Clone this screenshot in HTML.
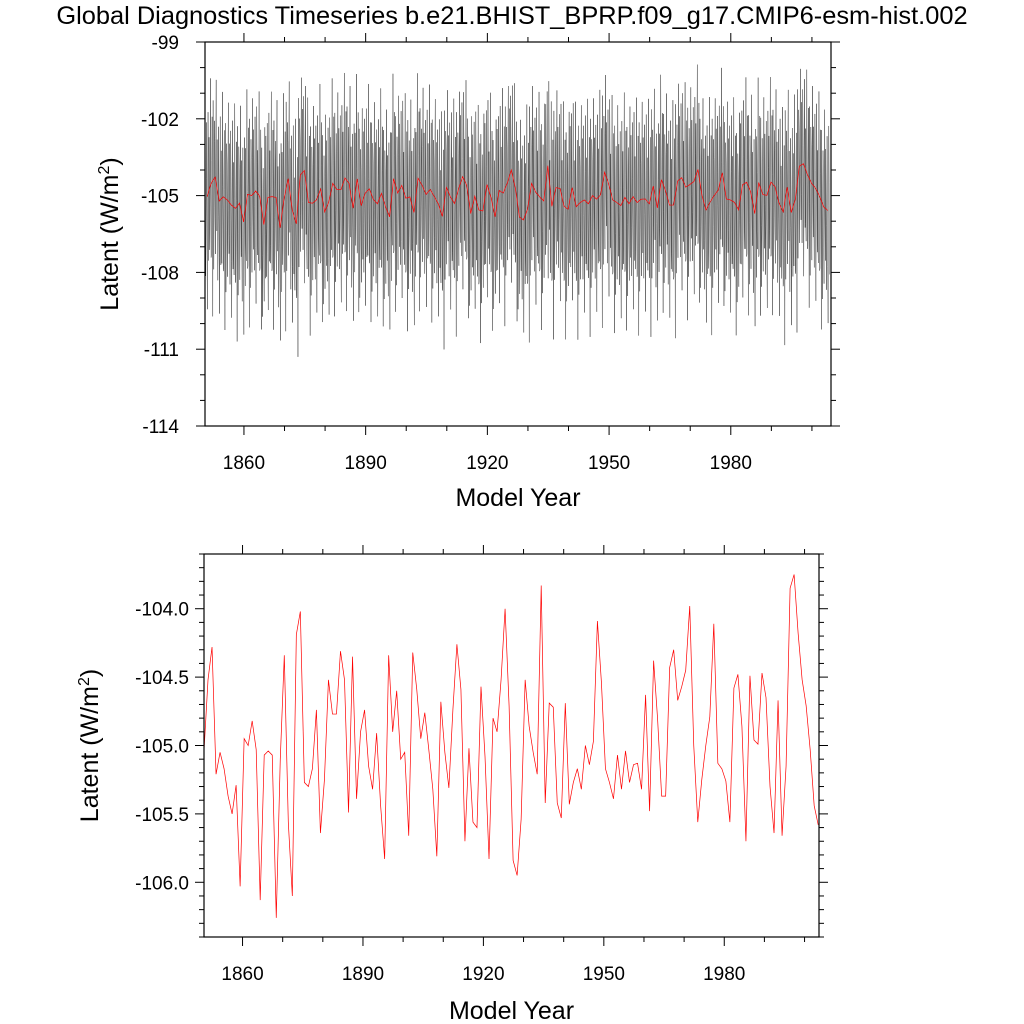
<!DOCTYPE html>
<html><head><meta charset="utf-8"><style>
html,body{margin:0;padding:0;background:#fff}
svg{display:block;font-family:"Liberation Sans",sans-serif}
</style></head><body>
<svg id="chart" width="1024" height="1024" viewBox="0 0 1024 1024">
<text x="512" y="24" text-anchor="middle" font-size="25.4">Global Diagnostics Timeseries b.e21.BHIST_BPRP.f09_g17.CMIP6-esm-hist.002</text>
<g id="top"></g>
<g id="bot"></g>
</svg>
<script>
const annualMeans = [-105.04,-104.52,-104.28,-105.21,-105.05,-105.17,-105.37,-105.50,-105.29,-106.03,
-104.95,-105.00,-104.82,-105.03,-106.13,-105.07,-105.04,-105.07,-106.26,-105.10,
-104.34,-105.56,-106.10,-104.19,-104.02,-105.27,-105.30,-105.17,-104.74,-105.64,
-105.25,-104.52,-104.77,-104.77,-104.31,-104.52,-105.49,-104.35,-105.39,-104.90,
-104.74,-105.15,-105.32,-104.91,-105.44,-105.83,-104.34,-104.90,-104.60,-105.10,
-105.05,-105.66,-104.32,-104.59,-104.95,-104.76,-105.03,-105.32,-105.81,-104.68,
-105.05,-105.31,-104.74,-104.26,-104.59,-105.70,-105.02,-105.56,-105.60,-104.57,
-105.08,-105.83,-104.80,-104.90,-104.52,-104.00,-104.71,-105.84,-105.95,-105.54,
-104.52,-104.86,-105.05,-105.21,-103.83,-105.42,-104.69,-104.72,-105.42,-105.53,
-104.69,-105.43,-105.27,-105.17,-105.32,-105.00,-105.14,-104.97,-104.09,-104.54,
-105.17,-105.27,-105.39,-105.07,-105.32,-105.04,-105.27,-105.14,-105.13,-105.32,
-104.63,-105.48,-104.38,-104.81,-105.37,-105.37,-104.43,-104.30,-104.67,-104.57,
-104.45,-103.98,-105.00,-105.56,-105.25,-105.00,-104.79,-104.11,-105.13,-105.17,
-105.26,-105.56,-104.58,-104.48,-104.86,-105.70,-104.49,-104.96,-104.99,-104.47,
-104.65,-105.30,-105.64,-104.67,-105.66,-105.15,-103.85,-103.75,-104.18,-104.52,
-104.71,-105.03,-105.44,-105.58];
const startYear = 1850.4;
// monthly anomaly pattern (three-year cycle)
const monthlyAnomaly = [2.4,-1.2,-3.1,-0.6,2.9,0.7,-2.2,-4.4,0.2,3.3,1.1,-2.5,
                        1.8,-1.9,-2.6,0.4,4.1,0.1,-2.9,-2.8,0.9,2.6,0.3,-5.2,
                        3.0,-0.8,-3.6,-1.2,2.2,1.4,-1.6,-3.0,1.5,3.8,-0.4,-2.1];
const topYTicks = [-99,-102,-105,-108,-111,-114];
const botYTicks = [-104.0,-104.5,-105.0,-105.5,-106.0];
const xTicks = [1860,1890,1920,1950,1980];

const NS='http://www.w3.org/2000/svg';
function mk(tag,attrs,parent){const e=document.createElementNS(NS,tag);for(const k in attrs)e.setAttribute(k,attrs[k]);parent.appendChild(e);return e;}

function panel(g,box,xDom,yDom,yTicks,yMinorStep,yFmt,yTitleX,xTitleY,labOff){
  const sx=v=>box.l+(v-xDom[0])/(xDom[1]-xDom[0])*(box.r-box.l);
  const sy=v=>box.b-(v-yDom[0])/(yDom[1]-yDom[0])*(box.b-box.t);
  const n=Math.round((yDom[1]-yDom[0])/yMinorStep);
  for(let i=0;i<=n;i++){
    const v=yDom[0]+i*yMinorStep,y=sy(v);
    const major=yTicks.some(t=>Math.abs(t-v)<1e-6);
    const L=major?9:5;
    const a=mk('line',{x1:box.l-L,x2:box.l,y1:y,y2:y,stroke:'#000','stroke-width':1},g);
    
    
    const b=mk('line',{x1:box.r,x2:box.r+L,y1:y,y2:y,stroke:'#000','stroke-width':1},g);
    
    
  }
  yTicks.forEach(t=>{
    const tx=mk('text',{x:box.l-labOff,y:sy(t)+7,'text-anchor':'end','font-size':19},g);
    tx.textContent=yFmt(t);
    
    
  });
  for(let yr=1860;yr<=2000;yr+=10){
    const x=sx(yr);
    if(x<box.l||x>box.r)continue;
    const major=xTicks.includes(yr);const L=major?9:5;
    const a=mk('line',{x1:x,x2:x,y1:box.b,y2:box.b+L,stroke:'#000','stroke-width':1},g);
    
    
    const b=mk('line',{x1:x,x2:x,y1:box.t-L,y2:box.t,stroke:'#000','stroke-width':1},g);
    
    
  }
  xTicks.forEach(t=>{
    const tx=mk('text',{x:sx(t),y:box.b+43,'text-anchor':'middle','font-size':19},g);
    tx.textContent=String(t);
    
    
  });
  const xt=mk('text',{x:(box.l+box.r)/2,y:xTitleY,'text-anchor':'middle','font-size':25},g);
  xt.textContent='Model Year';
  
  
  const cy=(box.t+box.b)/2;
  const yt=mk('text',{x:yTitleX,y:cy,'text-anchor':'middle','font-size':25,transform:`rotate(-90 ${yTitleX} ${cy})`},g);
  yt.innerHTML='Latent (W/m<tspan dy="-9" font-size="16">2</tspan><tspan dy="9">)</tspan>';
  
  
  return {sx,sy};
}
function frame(g,box){
  const f=mk('rect',{x:box.l,y:box.t,width:box.r-box.l,height:box.b-box.t,fill:'none',stroke:'#000','stroke-width':1.2},g);
  
  
}

const gt=document.getElementById('top');
const tb={l:205,r:831,t:42,b:426};
const T=panel(gt,tb,[1850.4,2004.7],[-114,-99],topYTicks,1,v=>String(v),118,506,26);
let pts=[];
annualMeans.forEach((m,i)=>{for(let k=0;k<12;k++){const a=monthlyAnomaly[(i%3)*12+k];pts.push(T.sx(startYear+i+k/12).toFixed(2)+','+T.sy(m+a).toFixed(2));}});
const black=mk('polyline',{points:pts.join(' '),fill:'none',stroke:'#000','stroke-width':0.45,'stroke-opacity':0.75},gt);


const redT=mk('polyline',{points:annualMeans.map((m,i)=>T.sx(startYear+i+0.5).toFixed(2)+','+T.sy(m).toFixed(2)).join(' '),fill:'none',stroke:'#f00','stroke-width':0.7},gt);


frame(gt,tb);

const gb=document.getElementById('bot');
const bb={l:204,r:819,t:554,b:937};
const B=panel(gb,bb,[1850.4,2003.6],[-106.4,-103.6],botYTicks,0.1,v=>v.toFixed(1),98,1019,15);
const redB=mk('polyline',{points:annualMeans.map((m,i)=>B.sx(startYear+i).toFixed(2)+','+B.sy(m).toFixed(2)).join(' '),fill:'none',stroke:'#f00','stroke-width':0.7},gb);


frame(gb,bb);
</script>
</body></html>
